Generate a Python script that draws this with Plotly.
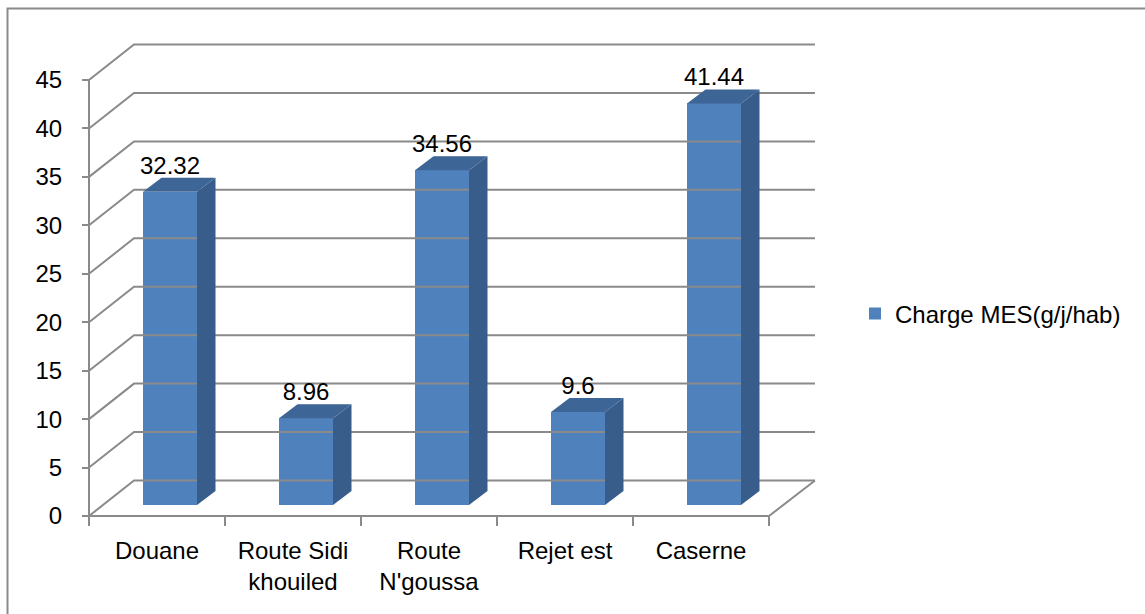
import plotly.graph_objects as go

# ---------------- data ----------------
categories = ["Douane", "Route Sidi<br>khouiled", "Route<br>N'goussa", "Rejet est", "Caserne"]
values = [32.32, 8.96, 34.56, 9.6, 41.44]
series_name = "Charge MES(g/j/hab)"
y_ticks = [0, 5, 10, 15, 20, 25, 30, 35, 40, 45]

# ---------------- geometry (pixel layout) ----------------
W, H = 1145, 614
PX_CAT = 136.0          # pixels per category
PX_UNIT = 436.0 / 45.0  # pixels per value unit
CAT0_PX = 157.0         # pixel x of first category centre (front plane)
ZERO_PX = 516.0         # pixel y of value 0 (front plane)
PLOT_L, PLOT_R, PLOT_T, PLOT_B = 80, 820, 40, 522

def xv(px):
    return (px - CAT0_PX) / PX_CAT

def yv(py):
    return (ZERO_PX - py) / PX_UNIT

def paper_x(px):
    return (px - PLOT_L) / (PLOT_R - PLOT_L)

def paper_y(py):
    return (PLOT_B - py) / (PLOT_B - PLOT_T)

# full depth of the 3D box and of a bar
DX = 45.0 / PX_CAT
DY = 35.5 / PX_UNIT
BDX = 18.5 / PX_CAT
BDY = 14.0 / PX_UNIT
BASE = 11.0 / PX_UNIT        # bar front face sits at mid-depth
OFF = (143.0 - CAT0_PX) / PX_CAT
BW = 54.0 / PX_CAT

n = len(categories)
xi = list(range(n))
x_left = -0.5
x_right_front = n - 0.5
x_right_back = xv(815)
ymax = max(y_ticks)

GRID = "#8a8a8a"
FRONT = "#4F81BD"
SIDE = "#385D8A"
TOP = "#3D6696"
FONT = "Liberation Sans"
FS = 24

fig = go.Figure()

# back-wall gridlines + left-wall diagonals
gx, gy = [], []
for v in y_ticks:
    gx += [x_left, x_left + DX, x_right_back, None]
    gy += [v, v + DY, v + DY, None]
# front axis line
gx += [x_left, x_left, None]
gy += [0, ymax, None]
# floor: front edge and right diagonal
gx += [x_left, x_right_front, x_right_back, None]
gy += [0, 0, DY, None]
fig.add_trace(go.Scatter(x=gx, y=gy, mode="lines", line=dict(color=GRID, width=2),
                         hoverinfo="skip", showlegend=False))

# bar side and top faces
sx, sy, tx, ty = [], [], [], []
for i, v in zip(xi, values):
    xl = i + OFF
    xr = xl + BW
    top = BASE + v
    sx += [xr, xr + BDX, xr + BDX, xr, xr, None]
    sy += [BASE, BASE + BDY, top + BDY, top, BASE, None]
    tx += [xl, xl + BDX, xr + BDX, xr, xl, None]
    ty += [top, top + BDY, top + BDY, top, top, None]
fig.add_trace(go.Scatter(x=sx, y=sy, mode="lines", fill="toself", fillcolor=SIDE,
                         line=dict(width=0, color=SIDE), hoverinfo="skip", showlegend=False))
fig.add_trace(go.Scatter(x=tx, y=ty, mode="lines", fill="toself", fillcolor=TOP,
                         line=dict(width=0, color=TOP), hoverinfo="skip", showlegend=False))

# bar front faces
fig.add_trace(go.Bar(x=xi, y=values, base=BASE, offset=OFF, width=BW,
                     marker=dict(color=FRONT, line=dict(width=0)),
                     name=series_name, showlegend=True))

# data labels
fig.add_trace(go.Scatter(x=[i + OFF + BW / 2 for i in xi],
                         y=[BASE + v + 24.0 / PX_UNIT for v in values],
                         mode="text", text=[str(v) for v in values],
                         textposition="middle center",
                         textfont=dict(family=FONT, size=FS, color="#000000"),
                         hoverinfo="skip", showlegend=False, cliponaxis=False))

fig.update_layout(
    width=W, height=H,
    margin=dict(l=PLOT_L, r=W - PLOT_R, t=PLOT_T, b=H - PLOT_B, pad=0),
    paper_bgcolor="white", plot_bgcolor="white",
    font=dict(family=FONT, size=FS, color="#000000"),
    xaxis=dict(range=[xv(PLOT_L), xv(PLOT_R)], showgrid=False, zeroline=False, showline=False,
               tickmode="array", tickvals=xi, ticktext=categories, ticks="",
               anchor="free", position=paper_y(ZERO_PX),
               ticklabelstandoff=18,
               minor=dict(tickmode="array", tickvals=[i - 0.5 for i in range(n + 1)],
                          ticks="outside", ticklen=9, tickwidth=2, tickcolor=GRID, showgrid=False),
               fixedrange=True),
    yaxis=dict(range=[yv(PLOT_B), yv(PLOT_T)], showgrid=False, zeroline=False, showline=False,
               tickmode="array", tickvals=y_ticks, ticks="outside", ticklen=7, tickwidth=2,
               tickcolor=GRID, anchor="free", position=paper_x(89),
               ticklabelstandoff=15, fixedrange=True),
    legend=dict(x=paper_x(855), y=paper_y(314), xanchor="left", yanchor="middle",
                bgcolor="rgba(0,0,0,0)", font=dict(family=FONT, size=FS, color="#000000")),
    shapes=[dict(type="rect", xref="paper", yref="paper",
                 x0=paper_x(7.5), x1=paper_x(1170), y0=paper_y(630), y1=paper_y(8.5),
                 line=dict(color=GRID, width=2), layer="below")],
    bargap=0, showlegend=True,
)

fig.write_html("out.html")
